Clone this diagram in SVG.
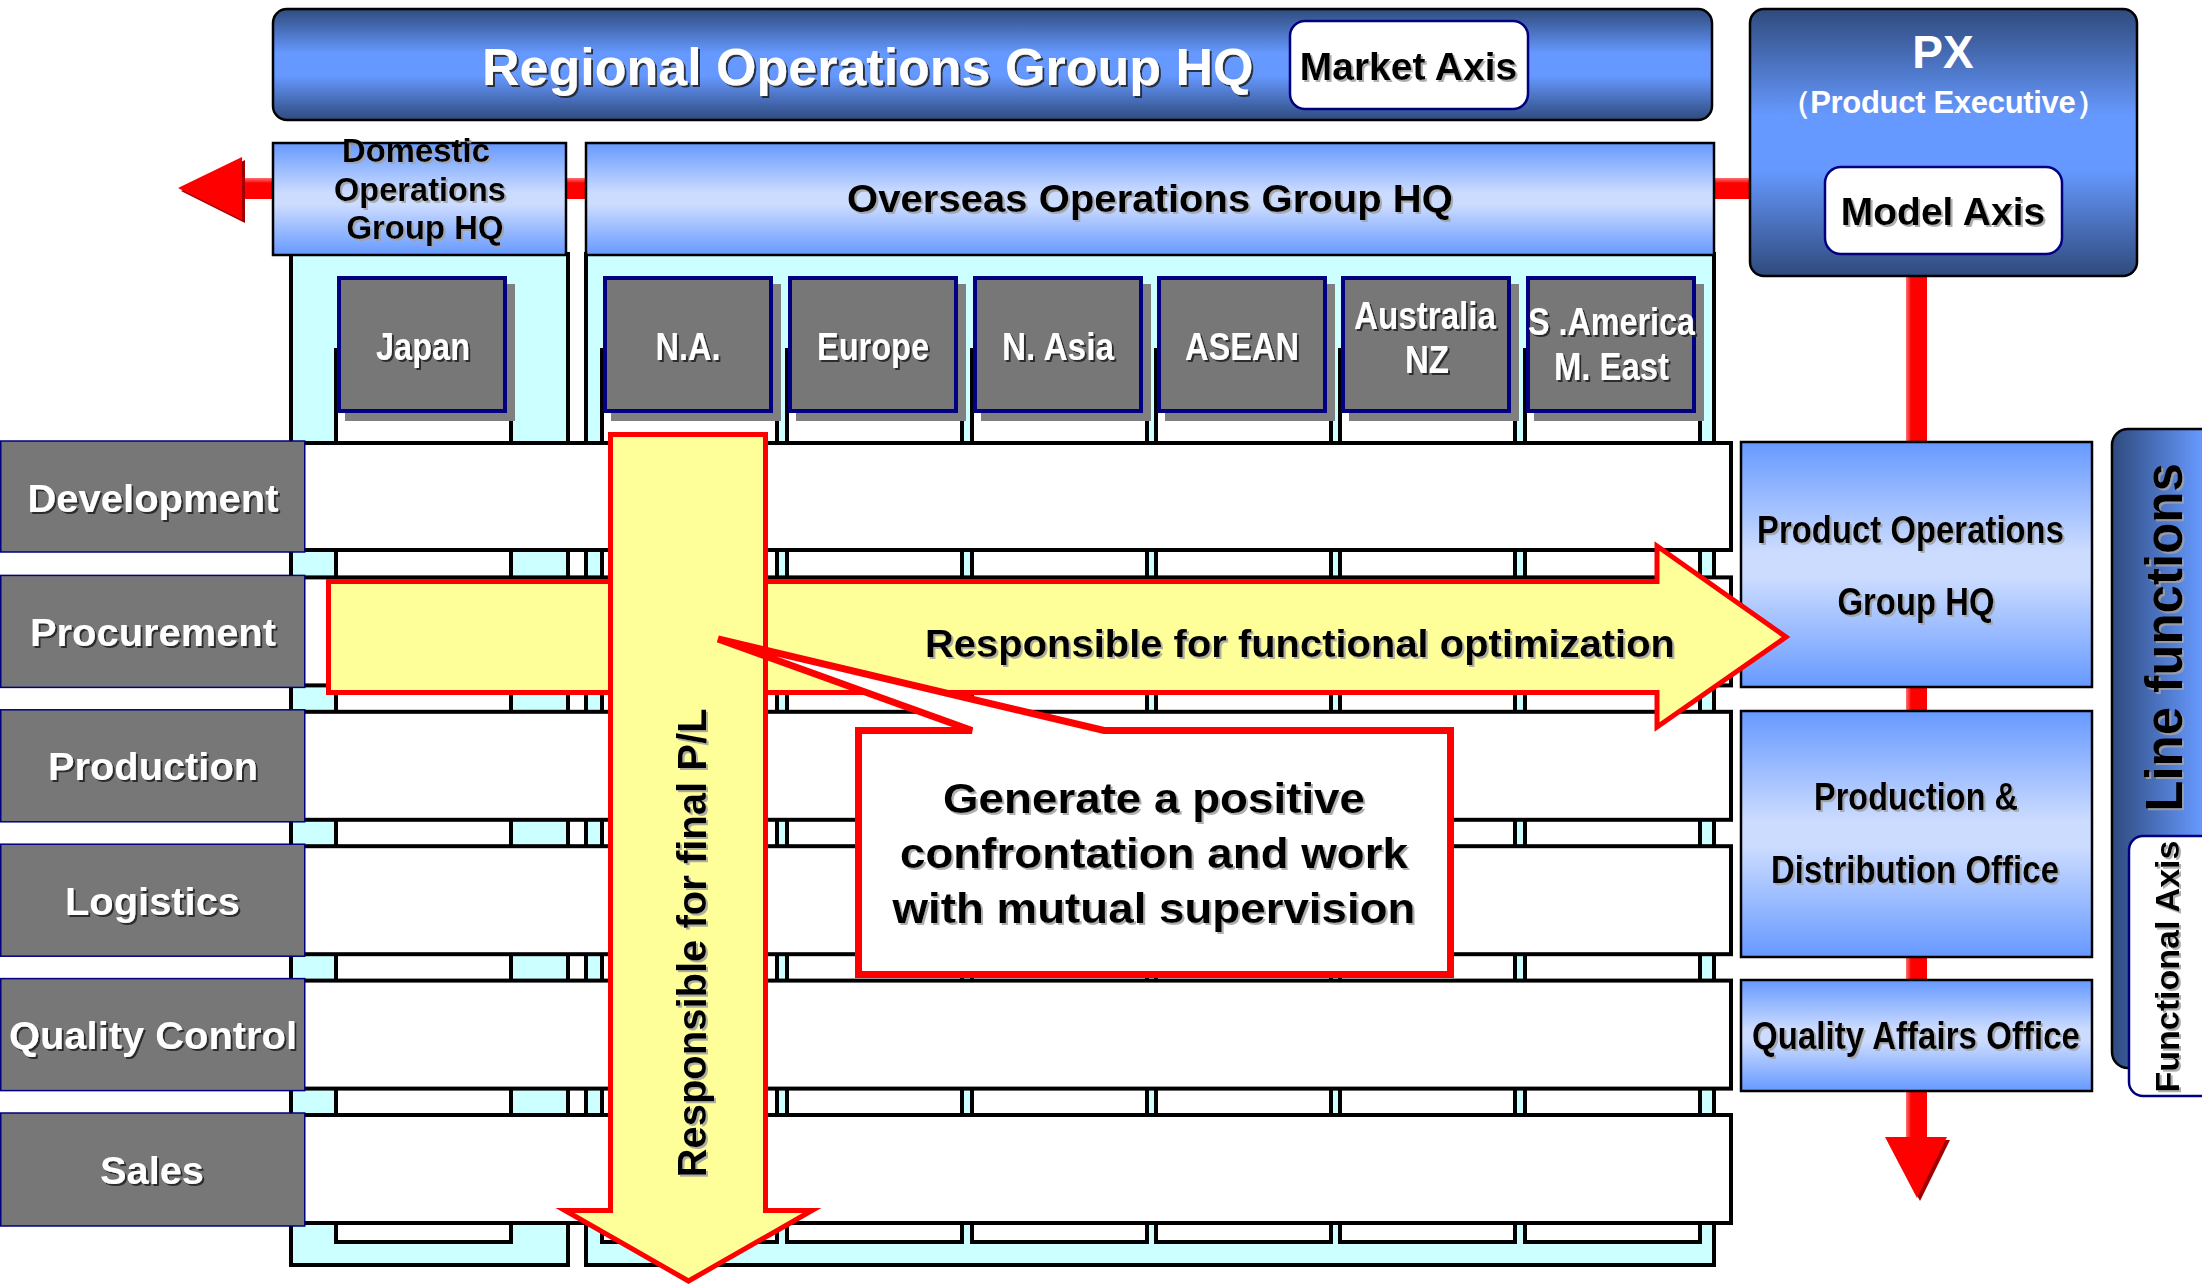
<svg xmlns="http://www.w3.org/2000/svg" width="2202" height="1287" viewBox="0 0 2202 1287">
<defs>
<linearGradient id="gDark" x1="0" y1="0" x2="0" y2="1">
<stop offset="0" stop-color="#2f4a7d"/><stop offset="0.4" stop-color="#6699ff"/><stop offset="0.6" stop-color="#6699ff"/><stop offset="1" stop-color="#2f4a7d"/>
</linearGradient>
<linearGradient id="gDarkH" x1="0" y1="0" x2="1" y2="0">
<stop offset="0" stop-color="#2f4a7d"/><stop offset="0.5" stop-color="#6699ff"/><stop offset="1" stop-color="#2f4a7d"/>
</linearGradient>
<linearGradient id="gLight" x1="0" y1="0" x2="0" y2="1">
<stop offset="0" stop-color="#6699ff"/><stop offset="0.45" stop-color="#ccdcff"/><stop offset="0.55" stop-color="#ccdcff"/><stop offset="1" stop-color="#6699ff"/>
</linearGradient>
<linearGradient id="gRedV" x1="0" y1="0" x2="1" y2="0">
<stop offset="0" stop-color="#ff7070"/><stop offset="0.25" stop-color="#ff0000"/><stop offset="1" stop-color="#ff0000"/>
</linearGradient>
<linearGradient id="gRedH" x1="0" y1="0" x2="0" y2="1">
<stop offset="0" stop-color="#ff7070"/><stop offset="0.25" stop-color="#ff0000"/><stop offset="1" stop-color="#ff0000"/>
</linearGradient>
<filter id="sd" x="-5%" y="-30%" width="115%" height="160%">
<feDropShadow dx="2" dy="2" stdDeviation="0.4" flood-color="#1a1a1a" flood-opacity="0.85"/>
</filter>
<filter id="sl" x="-5%" y="-30%" width="115%" height="160%">
<feDropShadow dx="2" dy="2" stdDeviation="0.4" flood-color="#a0a0a0" flood-opacity="0.85"/>
</filter>
<style>
.n{font-family:'Liberation Sans Narrow','Liberation Sans',Arial,sans-serif;font-weight:bold;}
.a{font-family:'Liberation Sans',Arial,sans-serif;font-weight:bold;}
.w{fill:#ffffff;}
.k{fill:#000000;}
.col{fill:#ccffff;stroke:#000;stroke-width:4;}
.strip{fill:#ffffff;stroke:#000;stroke-width:4;}
.row{fill:#ffffff;stroke:#000;stroke-width:4;}
.lab{fill:#777777;stroke:#000080;stroke-width:1.5;}
.reg{fill:#777777;stroke:#000080;stroke-width:4;}
.regsh{fill:#808080;}
.hq{fill:url(#gLight);stroke:#000;stroke-width:2.5;}
.rb{fill:url(#gLight);stroke:#000;stroke-width:2.5;}
.axis{fill:#ffffff;stroke:#000080;stroke-width:2.5;}
.yel{fill:#ffff99;stroke:#ff0000;stroke-width:5;stroke-linejoin:miter;}
</style>
</defs>
<rect width="2202" height="1287" fill="#ffffff"/>

<g id="connectors">
<rect x="240" y="178" width="1512" height="21" fill="url(#gRedH)"/>
<rect x="1906" y="270" width="21" height="870" fill="url(#gRedV)"/>
<polygon points="181,191 245,160 245,223" fill="#a00000"/>
<polygon points="178,188 242,157 242,220" fill="#ff0000"/>
<polygon points="1888,1140 1950,1140 1920,1201" fill="#a00000"/>
<polygon points="1885,1137 1947,1137 1917,1198" fill="#ff0000"/>
</g>

<g id="domestic-column">
<rect class="col" x="291" y="254" width="277" height="1011"/>
</g>
<g id="overseas-column">
<rect class="col" x="586" y="254" width="1128" height="1011"/>
</g>

<g id="strips">
<rect class="strip" x="336" y="350" width="175" height="892"/>
<rect class="strip" x="602" y="350" width="175" height="892"/>
<rect class="strip" x="787" y="350" width="175" height="892"/>
<rect class="strip" x="972" y="350" width="175" height="892"/>
<rect class="strip" x="1156" y="350" width="175" height="892"/>
<rect class="strip" x="1340" y="350" width="175" height="892"/>
<rect class="strip" x="1525" y="350" width="175" height="892"/>
</g>

<g id="rows">
<rect class="row" x="300" y="443" width="1431" height="107"/>
<rect class="row" x="300" y="577.4" width="1431" height="108"/>
<rect class="row" x="300" y="711.8" width="1431" height="108"/>
<rect class="row" x="300" y="846.2" width="1431" height="108"/>
<rect class="row" x="300" y="980.6" width="1431" height="108"/>
<rect class="row" x="300" y="1115" width="1431" height="108"/>
</g>

<g id="label-development">
<rect class="lab" x="0.75" y="441" width="304" height="111"/>
<text class="n w" filter="url(#sd)" x="153" y="511.5" font-size="38" text-anchor="middle" textLength="251" lengthAdjust="spacingAndGlyphs">Development</text>
</g>
<g id="label-procurement">
<rect class="lab" x="0.75" y="575.4" width="304" height="112"/>
<text class="n w" filter="url(#sd)" x="153" y="646" font-size="38" text-anchor="middle" textLength="246" lengthAdjust="spacingAndGlyphs">Procurement</text>
</g>
<g id="label-production">
<rect class="lab" x="0.75" y="709.8" width="304" height="112"/>
<text class="n w" filter="url(#sd)" x="153" y="780" font-size="38" text-anchor="middle" textLength="210" lengthAdjust="spacingAndGlyphs">Production</text>
</g>
<g id="label-logistics">
<rect class="lab" x="0.75" y="844.2" width="304" height="112"/>
<text class="n w" filter="url(#sd)" x="152.5" y="914.7" font-size="38" text-anchor="middle" textLength="175" lengthAdjust="spacingAndGlyphs">Logistics</text>
</g>
<g id="label-quality-control">
<rect class="lab" x="0.75" y="978.6" width="304" height="112"/>
<text class="n w" filter="url(#sd)" x="153" y="1049" font-size="38" text-anchor="middle" textLength="288" lengthAdjust="spacingAndGlyphs">Quality Control</text>
</g>
<g id="label-sales">
<rect class="lab" x="0.75" y="1113" width="304" height="113"/>
<text class="n w" filter="url(#sd)" x="152" y="1183.5" font-size="38" text-anchor="middle" textLength="104" lengthAdjust="spacingAndGlyphs">Sales</text>
</g>

<g id="region-japan">
<rect class="regsh" x="345" y="284" width="170" height="137"/>
<rect class="reg" x="339" y="278" width="166" height="133"/>
<text class="n w" filter="url(#sd)" x="423" y="360" font-size="38" text-anchor="middle" textLength="94" lengthAdjust="spacingAndGlyphs">Japan</text>
</g>
<g id="region-na">
<rect class="regsh" x="611" y="284" width="170" height="137"/>
<rect class="reg" x="605" y="278" width="166" height="133"/>
<text class="n w" filter="url(#sd)" x="688" y="360" font-size="38" text-anchor="middle" textLength="65" lengthAdjust="spacingAndGlyphs">N.A.</text>
</g>
<g id="region-europe">
<rect class="regsh" x="796" y="284" width="170" height="137"/>
<rect class="reg" x="790" y="278" width="166" height="133"/>
<text class="n w" filter="url(#sd)" x="873" y="360" font-size="38" text-anchor="middle" textLength="112" lengthAdjust="spacingAndGlyphs">Europe</text>
</g>
<g id="region-nasia">
<rect class="regsh" x="981" y="284" width="170" height="137"/>
<rect class="reg" x="975" y="278" width="166" height="133"/>
<text class="n w" filter="url(#sd)" x="1058" y="360" font-size="38" text-anchor="middle" textLength="112" lengthAdjust="spacingAndGlyphs">N. Asia</text>
</g>
<g id="region-asean">
<rect class="regsh" x="1165" y="284" width="170" height="137"/>
<rect class="reg" x="1159" y="278" width="166" height="133"/>
<text class="n w" filter="url(#sd)" x="1242" y="360" font-size="38" text-anchor="middle" textLength="114" lengthAdjust="spacingAndGlyphs">ASEAN</text>
</g>
<g id="region-australia">
<rect class="regsh" x="1349" y="284" width="170" height="137"/>
<rect class="reg" x="1343" y="278" width="166" height="133"/>
<text class="n w" filter="url(#sd)" x="1425" y="329" font-size="38" text-anchor="middle" textLength="142" lengthAdjust="spacingAndGlyphs">Australia</text>
<text class="n w" filter="url(#sd)" x="1427" y="373" font-size="38" text-anchor="middle" textLength="44" lengthAdjust="spacingAndGlyphs">NZ</text>
</g>
<g id="region-samerica">
<rect class="regsh" x="1534" y="284" width="170" height="137"/>
<rect class="reg" x="1528" y="278" width="166" height="133"/>
<text class="n w" filter="url(#sd)" x="1611.5" y="335" font-size="38" text-anchor="middle" textLength="167" lengthAdjust="spacingAndGlyphs">S .America</text>
<text class="n w" filter="url(#sd)" x="1611.5" y="380" font-size="38" text-anchor="middle" textLength="115" lengthAdjust="spacingAndGlyphs">M. East</text>
</g>

<g id="domestic-hq">
<rect class="hq" x="273" y="143" width="293" height="112"/>
<text class="n k" filter="url(#sl)" x="416" y="162" font-size="34" text-anchor="middle" textLength="148" lengthAdjust="spacingAndGlyphs">Domestic</text>
<text class="n k" filter="url(#sl)" x="420" y="200.5" font-size="34" text-anchor="middle" textLength="172" lengthAdjust="spacingAndGlyphs">Operations</text>
<text class="n k" filter="url(#sl)" x="425" y="239" font-size="34" text-anchor="middle" textLength="157" lengthAdjust="spacingAndGlyphs">Group HQ</text>
</g>
<g id="overseas-hq">
<rect class="hq" x="586" y="143" width="1128" height="112"/>
<text class="n k" filter="url(#sl)" x="1150" y="212" font-size="38" text-anchor="middle" textLength="606" lengthAdjust="spacingAndGlyphs">Overseas Operations Group HQ</text>
</g>

<g id="regional-hq">
<rect x="273" y="9" width="1439" height="111" rx="14" fill="url(#gDark)" stroke="#000" stroke-width="2.5"/>
<text class="a w" filter="url(#sd)" x="482" y="85" font-size="52">Regional Operations Group HQ</text>
</g>
<g id="market-axis">
<rect class="axis" x="1290" y="21" width="238" height="88" rx="15"/>
<text class="a k" filter="url(#sl)" x="1408.5" y="80" font-size="39" text-anchor="middle">Market Axis</text>
</g>

<g id="px">
<rect x="1750" y="9" width="387" height="267" rx="14" fill="url(#gDark)" stroke="#000" stroke-width="2.5"/>
<text class="a w" x="1943" y="68" font-size="46" text-anchor="middle">PX</text>
<text class="a w" x="1943" y="113" font-size="31" text-anchor="middle" font-family="'Liberation Sans','Noto Sans CJK JP',sans-serif" textLength="327" lengthAdjust="spacing">（Product Executive）</text>
</g>
<g id="model-axis">
<rect class="axis" x="1825" y="167" width="237" height="87" rx="16"/>
<text class="a k" filter="url(#sl)" x="1943" y="225" font-size="39" text-anchor="middle">Model Axis</text>
</g>

<g id="product-operations-hq">
<rect class="rb" x="1741" y="442" width="351" height="245"/>
<text class="n k" filter="url(#sl)" x="1910.5" y="543" font-size="38" text-anchor="middle" textLength="307" lengthAdjust="spacingAndGlyphs">Product Operations</text>
<text class="n k" filter="url(#sl)" x="1916" y="615" font-size="38" text-anchor="middle" textLength="157" lengthAdjust="spacingAndGlyphs">Group HQ</text>
</g>
<g id="production-distribution">
<rect class="rb" x="1741" y="711" width="351" height="246"/>
<text class="n k" filter="url(#sl)" x="1916" y="810" font-size="38" text-anchor="middle" textLength="204" lengthAdjust="spacingAndGlyphs">Production &amp;</text>
<text class="n k" filter="url(#sl)" x="1915" y="883" font-size="38" text-anchor="middle" textLength="288" lengthAdjust="spacingAndGlyphs">Distribution Office</text>
</g>
<g id="quality-affairs">
<rect class="rb" x="1741" y="980" width="351" height="111"/>
<text class="n k" filter="url(#sl)" x="1916" y="1049" font-size="38" text-anchor="middle" textLength="328" lengthAdjust="spacingAndGlyphs">Quality Affairs Office</text>
</g>

<g id="line-functions">
<rect x="2112" y="429" width="180" height="639" rx="16" fill="url(#gDarkH)" stroke="#000" stroke-width="2.5"/>
<g filter="url(#sl)"><text class="a k" transform="translate(2182,637.5) rotate(-90)" x="0" y="0" font-size="51" text-anchor="middle">Line functions</text></g>
</g>
<g id="functional-axis">
<rect class="axis" x="2129" y="836" width="90" height="260" rx="14"/>
<g filter="url(#sl)"><text class="a k" transform="translate(2179,966.5) rotate(-90)" x="0" y="0" font-size="34" text-anchor="middle">Functional Axis</text></g>
</g>

<g id="functional-optimization-arrow">
<path class="yel" d="M328.5,581.5 H1657 V546 L1786,637 L1657,727 V692.5 H328.5 Z"/>
<text class="n k" filter="url(#sl)" x="1300" y="657" font-size="38" text-anchor="middle" textLength="750" lengthAdjust="spacingAndGlyphs">Responsible for functional optimization</text>
</g>
<g id="final-pl-arrow">
<path class="yel" d="M610.5,434.5 H765.5 V1210.5 H812 L688.5,1281 L565,1210.5 H610.5 Z"/>
<g filter="url(#sl)"><text class="a k" transform="translate(706,943) rotate(-90)" x="0" y="0" font-size="40" text-anchor="middle">Responsible for final P/L</text></g>
</g>

<g id="callout">
<path d="M858.5,730.5 H972 L718,639 L1104,730.5 H1450.5 V974.5 H858.5 Z" fill="#ffffff" stroke="#ff0000" stroke-width="7" stroke-linejoin="miter"/>
<text class="n k" filter="url(#sl)" x="1154" y="813" font-size="42" text-anchor="middle" textLength="422" lengthAdjust="spacingAndGlyphs">Generate a positive</text>
<text class="n k" filter="url(#sl)" x="1154" y="868" font-size="42" text-anchor="middle" textLength="508" lengthAdjust="spacingAndGlyphs">confrontation and work</text>
<text class="n k" filter="url(#sl)" x="1154" y="923" font-size="42" text-anchor="middle" textLength="523" lengthAdjust="spacingAndGlyphs">with mutual supervision</text>
</g>
</svg>
